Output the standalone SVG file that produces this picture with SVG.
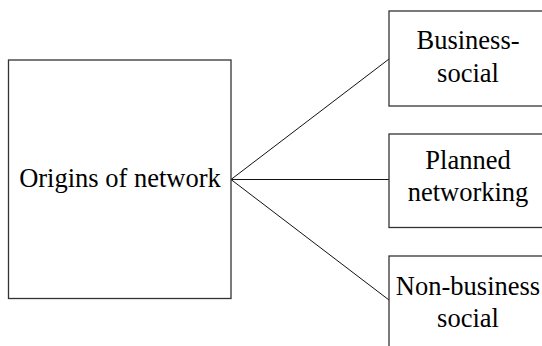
<svg xmlns="http://www.w3.org/2000/svg" width="542" height="346" viewBox="0 0 542 346">
  <style>
    .box { fill: #ffffff; stroke: #333333; stroke-width: 1.3; }
    .edge { stroke: #111111; stroke-width: 1; fill: none; }
    .label { font-family: 'Liberation Serif', 'Times New Roman', Times, 'DejaVu Serif', serif; font-size: 26.5px; fill: #000000; text-anchor: middle; }
  </style>
  <rect width="542" height="346" fill="#ffffff"/>
  <g id="connectors">
    <line class="edge" x1="231" y1="179.5" x2="389" y2="59"/>
    <line class="edge" x1="231" y1="179.5" x2="389" y2="179.5"/>
    <line class="edge" x1="231" y1="179.5" x2="389" y2="300"/>
  </g>
  <g id="origins">
    <rect class="box" x="8.5" y="60" width="222.5" height="238.5"/>
    <text class="label" x="120" y="187" font-family="Liberation Serif, serif">Origins of network</text>
  </g>
  <g id="business-social">
    <rect class="box" x="389" y="11" width="165" height="95"/>
    <text class="label" x="468" y="49">Business-</text>
    <text class="label" x="468" y="82">social</text>
  </g>
  <g id="planned-networking">
    <rect class="box" x="389" y="134" width="165" height="93.5"/>
    <text class="label" x="468" y="169">Planned</text>
    <text class="label" x="468" y="201">networking</text>
  </g>
  <g id="non-business-social">
    <rect class="box" x="389" y="256" width="165" height="100"/>
    <text class="label" x="468" y="295">Non-business</text>
    <text class="label" x="468" y="327">social</text>
  </g>
</svg>
